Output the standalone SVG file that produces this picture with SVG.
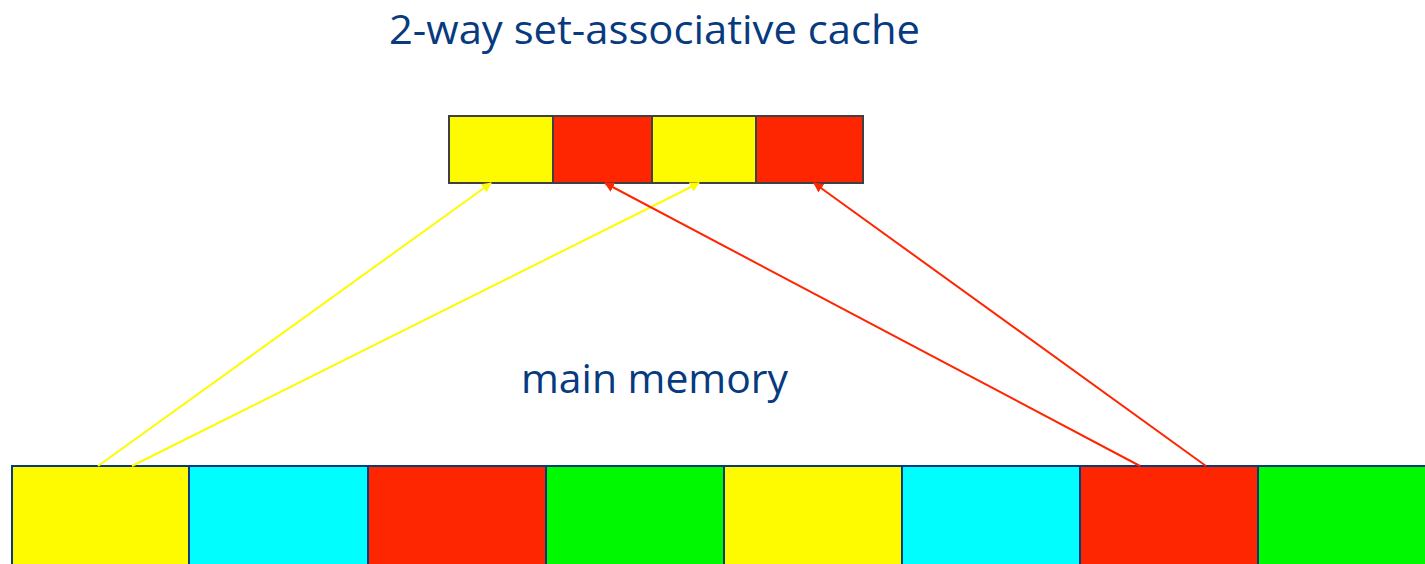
<svg xmlns="http://www.w3.org/2000/svg" width="1425" height="564" viewBox="0 0 1425 564">
  <style>
    .title { font-family: "Open Sans", "Noto Sans", "Liberation Sans", sans-serif; font-size: 41px; fill: #073a7e; }
    .cache { stroke: #404040; stroke-width: 2; }
    .mem { stroke: #0a3a7a; stroke-width: 2; }
    .y { fill: #fefb00; }
    .r { fill: #fe2600; }
    .c { fill: #00fefe; }
    .g { fill: #00f900; }
    .ly { stroke: #fefb00; stroke-width: 2; fill: none; marker-end: url(#ay); }
    .lr { stroke: #fe2600; stroke-width: 2; fill: none; marker-end: url(#ar); }
  </style>
  <defs>
    <marker id="ay" viewBox="0 0 10 10" refX="9" refY="5" markerWidth="5" markerHeight="5" orient="auto" markerUnits="strokeWidth">
      <path d="M0,0 L10,5 L0,10 z" fill="#fefb00"/>
    </marker>
    <marker id="ar" viewBox="0 0 10 10" refX="9" refY="5" markerWidth="5" markerHeight="5" orient="auto" markerUnits="strokeWidth">
      <path d="M0,0 L10,5 L0,10 z" fill="#fe2600"/>
    </marker>
  </defs>

  <rect width="1425" height="564" fill="#ffffff"/>

  <text class="title" x="389" y="44" textLength="531" lengthAdjust="spacingAndGlyphs">2-way set-associative cache</text>
  <text class="title" x="521" y="393" textLength="267" lengthAdjust="spacingAndGlyphs">main memory</text>

  <!-- cache: two sets of two ways -->
  <g id="cache">
    <rect id="cache-0" class="cache y" x="449" y="116" width="104" height="67"/>
    <rect id="cache-1" class="cache r" x="553" y="116" width="99" height="67"/>
    <rect id="cache-2" class="cache y" x="652" y="116" width="104" height="67"/>
    <rect id="cache-3" class="cache r" x="756" y="116" width="107" height="67"/>
  </g>

  <!-- main memory blocks -->
  <g id="memory">
    <rect id="mem-0" class="mem y" x="12" y="466" width="177" height="110"/>
    <rect id="mem-1" class="mem c" x="189" y="466" width="179" height="110"/>
    <rect id="mem-2" class="mem r" x="368" y="466" width="178" height="110"/>
    <rect id="mem-3" class="mem g" x="546" y="466" width="178" height="110"/>
    <rect id="mem-4" class="mem y" x="724" y="466" width="178" height="110"/>
    <rect id="mem-5" class="mem c" x="902" y="466" width="178" height="110"/>
    <rect id="mem-6" class="mem r" x="1080" y="466" width="178" height="110"/>
    <rect id="mem-7" class="mem g" x="1258" y="466" width="180" height="110"/>
  </g>

  <g id="connectors">
    <line class="ly" x1="98" y1="466" x2="491" y2="183"/>
    <line class="ly" x1="132" y1="466" x2="699" y2="183"/>
    <line class="lr" x1="1140" y1="466" x2="605" y2="183"/>
    <line class="lr" x1="1206" y1="466" x2="814" y2="183"/>
  </g>
</svg>
